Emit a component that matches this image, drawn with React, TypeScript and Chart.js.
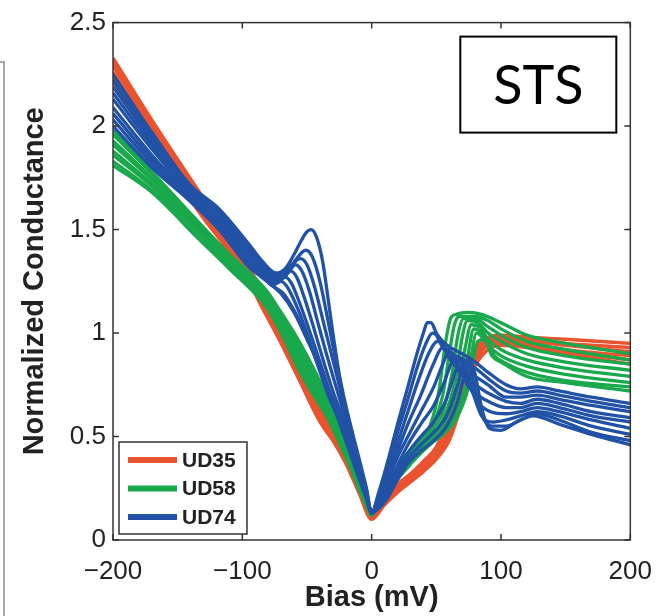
import React, { useEffect, useRef } from 'react';
import { Chart, registerables } from 'chart.js';

Chart.register(...registerables);

type Pt = [number, number];

const SERIES_NAMES = ['UD35', 'UD58', 'UD74'];
const SERIES_COLORS = ['#e9532f', '#1aa84c', '#2152a6'];
const X_TICKS = [-200, -100, 0, 100, 200];
const Y_TICKS = [0, 0.5, 1, 1.5, 2, 2.5];
const X_TITLE = 'Bias (mV)';
const Y_TITLE = 'Normalized Conductance';
const BOX_LABEL = 'STS';
const FONT = "'Liberation Sans', Arial, Helvetica, sans-serif";

// ---- UD35 (red) ----
const UD35_1: Pt[] = [[-200,2.33],[-170,2.03],[-133,1.68],[-110,1.47],[-95,1.32],[-87,1.23],[-70,1.03],[-55,0.85],[-40,0.66],[-30,0.54],[-20,0.42],[-10,0.27],[0,0.12],[10,0.20],[20,0.27],[30,0.32],[40,0.38],[50,0.45],[60,0.60],[70,0.80],[80,0.93],[90,0.98],[100,0.99],[120,0.98],[150,0.97],[200,0.95]];
const UD35_2: Pt[] = [[-200,2.31],[-170,2.01],[-133,1.66],[-110,1.45],[-95,1.31],[-87,1.21],[-70,1.01],[-55,0.83],[-40,0.64],[-30,0.53],[-20,0.41],[-10,0.26],[0,0.12],[10,0.19],[20,0.26],[30,0.31],[40,0.37],[50,0.44],[60,0.57],[70,0.77],[80,0.91],[90,0.97],[100,0.98],[120,0.97],[150,0.95],[200,0.93]];
const UD35_3: Pt[] = [[-200,2.29],[-170,1.99],[-133,1.64],[-110,1.44],[-95,1.29],[-87,1.20],[-70,0.99],[-55,0.81],[-40,0.62],[-30,0.51],[-20,0.40],[-10,0.25],[0,0.11],[10,0.19],[20,0.25],[30,0.30],[40,0.36],[50,0.42],[60,0.55],[70,0.74],[80,0.89],[90,0.96],[100,0.97],[120,0.96],[150,0.94],[200,0.91]];
const UD35_4: Pt[] = [[-200,2.26],[-170,1.97],[-133,1.62],[-110,1.42],[-95,1.28],[-87,1.18],[-70,0.98],[-55,0.80],[-40,0.61],[-30,0.50],[-20,0.39],[-10,0.25],[0,0.11],[10,0.18],[20,0.25],[30,0.30],[40,0.35],[50,0.41],[60,0.53],[70,0.71],[80,0.88],[90,0.95],[100,0.96],[120,0.95],[150,0.92],[200,0.89]];
const UD35_5: Pt[] = [[-200,2.24],[-170,1.95],[-133,1.60],[-110,1.40],[-95,1.26],[-87,1.17],[-70,0.96],[-55,0.78],[-40,0.59],[-30,0.49],[-20,0.38],[-10,0.24],[0,0.11],[10,0.18],[20,0.24],[30,0.29],[40,0.34],[50,0.40],[60,0.51],[70,0.69],[80,0.86],[90,0.94],[100,0.95],[120,0.94],[150,0.91],[200,0.87]];
const UD35_6: Pt[] = [[-200,2.22],[-170,1.93],[-133,1.58],[-110,1.39],[-95,1.25],[-87,1.15],[-70,0.95],[-55,0.76],[-40,0.57],[-30,0.48],[-20,0.37],[-10,0.23],[0,0.10],[10,0.17],[20,0.23],[30,0.28],[40,0.33],[50,0.39],[60,0.48],[70,0.66],[80,0.84],[90,0.92],[100,0.94],[120,0.93],[150,0.90],[200,0.85]];

// ---- UD58 (green) ----
const UD58_1: Pt[] = [[-200,1.98],[-170,1.78],[-133,1.53],[-110,1.38],[-82,1.21],[-70,1.10],[-57,0.97],[-45,0.83],[-35,0.70],[-25,0.55],[-15,0.39],[-5,0.21],[0,0.13],[5,0.20],[15,0.30],[25,0.40],[35,0.47],[45,0.55],[52,0.72],[57,0.95],[61,1.07],[65,1.09],[75,1.10],[85,1.09],[100,1.05],[120,0.99],[150,0.95],[200,0.90]];
const UD58_2: Pt[] = [[-200,1.96],[-170,1.77],[-133,1.52],[-110,1.37],[-82,1.20],[-70,1.09],[-57,0.95],[-45,0.81],[-35,0.68],[-25,0.54],[-15,0.38],[-5,0.21],[0,0.13],[5,0.20],[15,0.30],[25,0.39],[35,0.46],[45,0.53],[55,0.70],[60,0.90],[64,1.04],[68,1.08],[80,1.08],[90,1.06],[100,1.02],[120,0.96],[150,0.92],[200,0.87]];
const UD58_3: Pt[] = [[-200,1.93],[-170,1.75],[-133,1.51],[-110,1.36],[-82,1.19],[-70,1.07],[-57,0.93],[-45,0.79],[-35,0.66],[-25,0.52],[-15,0.37],[-5,0.20],[0,0.13],[5,0.19],[15,0.29],[25,0.38],[35,0.45],[45,0.52],[55,0.62],[62,0.80],[67,1.00],[71,1.07],[80,1.07],[90,1.03],[100,0.99],[120,0.93],[150,0.89],[200,0.85]];
const UD58_4: Pt[] = [[-200,1.91],[-170,1.74],[-133,1.50],[-110,1.35],[-82,1.18],[-70,1.06],[-57,0.91],[-45,0.77],[-35,0.65],[-25,0.51],[-15,0.36],[-5,0.20],[0,0.12],[5,0.19],[15,0.29],[25,0.37],[35,0.44],[45,0.50],[55,0.58],[65,0.78],[70,0.98],[74,1.06],[82,1.05],[90,1.00],[100,0.96],[120,0.90],[150,0.86],[200,0.82]];
const UD58_5: Pt[] = [[-200,1.88],[-170,1.72],[-133,1.49],[-110,1.34],[-82,1.17],[-70,1.04],[-57,0.89],[-45,0.75],[-35,0.63],[-25,0.50],[-15,0.35],[-5,0.19],[0,0.12],[5,0.18],[15,0.28],[25,0.36],[35,0.43],[45,0.49],[55,0.55],[65,0.70],[72,0.92],[77,1.04],[83,1.03],[90,0.97],[100,0.92],[120,0.87],[150,0.83],[200,0.79]];
const UD58_6: Pt[] = [[-200,1.86],[-170,1.71],[-133,1.48],[-110,1.33],[-82,1.15],[-70,1.03],[-57,0.87],[-45,0.73],[-35,0.62],[-25,0.49],[-15,0.34],[-5,0.19],[0,0.12],[5,0.18],[15,0.27],[25,0.35],[35,0.42],[45,0.48],[55,0.53],[65,0.64],[74,0.88],[79,1.02],[85,1.00],[92,0.93],[100,0.89],[120,0.84],[150,0.80],[200,0.76]];
const UD58_7: Pt[] = [[-200,1.83],[-170,1.69],[-133,1.46],[-110,1.32],[-82,1.14],[-70,1.01],[-57,0.85],[-45,0.71],[-35,0.61],[-25,0.48],[-15,0.33],[-5,0.18],[0,0.12],[5,0.17],[15,0.26],[25,0.34],[35,0.41],[45,0.47],[55,0.52],[65,0.60],[75,0.80],[81,1.00],[87,0.97],[95,0.89],[105,0.85],[120,0.81],[150,0.77],[200,0.74]];
const UD58_8: Pt[] = [[-200,1.81],[-170,1.68],[-133,1.45],[-110,1.31],[-82,1.13],[-70,1.00],[-57,0.83],[-45,0.70],[-35,0.60],[-25,0.47],[-15,0.33],[-5,0.18],[0,0.12],[5,0.17],[15,0.26],[25,0.33],[35,0.40],[45,0.46],[55,0.51],[65,0.58],[75,0.74],[82,0.96],[87,0.97],[93,0.89],[100,0.86],[120,0.79],[150,0.76],[200,0.72]];

// ---- UD74 (blue) ----
const UD74_1: Pt[] = [[-200,2.25],[-170,1.97],[-141,1.72],[-118,1.60],[-95,1.43],[-85,1.35],[-74,1.29],[-67,1.31],[-60,1.38],[-55,1.44],[-50,1.49],[-47,1.50],[-43,1.47],[-38,1.35],[-34,1.18],[-30,1.00],[-25,0.80],[-20,0.65],[-10,0.40],[-4,0.25],[0,0.13],[5,0.22],[12,0.37],[20,0.56],[28,0.74],[35,0.90],[40,1.00],[43,1.05],[46,1.05],[50,1.00],[55,0.96],[61,0.93],[70,0.90],[80,0.86],[90,0.81],[104,0.75],[115,0.73],[128,0.74],[145,0.72],[170,0.69],[200,0.66]];
const UD74_2: Pt[] = [[-200,2.22],[-170,1.95],[-141,1.71],[-118,1.59],[-95,1.42],[-85,1.34],[-75,1.28],[-65,1.30],[-58,1.36],[-51,1.40],[-46,1.37],[-40,1.25],[-35,1.10],[-30,0.94],[-25,0.78],[-20,0.63],[-10,0.38],[-4,0.24],[0,0.13],[5,0.21],[12,0.35],[20,0.52],[28,0.68],[35,0.83],[42,0.95],[47,1.00],[50,0.99],[55,0.93],[62,0.89],[70,0.86],[80,0.83],[90,0.78],[104,0.72],[115,0.71],[128,0.72],[145,0.70],[170,0.67],[200,0.64]];
const UD74_3: Pt[] = [[-200,2.19],[-170,1.93],[-141,1.70],[-118,1.58],[-95,1.40],[-85,1.33],[-75,1.27],[-65,1.31],[-55,1.36],[-50,1.33],[-44,1.22],[-38,1.07],[-32,0.92],[-26,0.77],[-20,0.61],[-10,0.36],[-4,0.23],[0,0.13],[5,0.20],[12,0.32],[20,0.47],[28,0.62],[36,0.77],[44,0.90],[51,0.96],[55,0.94],[62,0.86],[70,0.82],[80,0.79],[90,0.75],[104,0.69],[115,0.69],[128,0.70],[145,0.68],[170,0.65],[200,0.62]];
const UD74_4: Pt[] = [[-200,2.16],[-170,1.91],[-141,1.69],[-118,1.56],[-95,1.39],[-85,1.32],[-75,1.26],[-66,1.28],[-59,1.33],[-54,1.30],[-48,1.20],[-42,1.06],[-35,0.90],[-28,0.75],[-20,0.58],[-10,0.35],[-4,0.22],[0,0.13],[5,0.19],[12,0.30],[20,0.43],[28,0.56],[38,0.70],[47,0.84],[55,0.93],[59,0.92],[65,0.84],[72,0.78],[80,0.75],[90,0.71],[104,0.67],[115,0.66],[128,0.68],[145,0.66],[170,0.62],[200,0.59]];
const UD74_5: Pt[] = [[-200,2.13],[-170,1.89],[-141,1.68],[-118,1.55],[-95,1.38],[-85,1.31],[-76,1.25],[-69,1.27],[-63,1.30],[-58,1.27],[-52,1.17],[-45,1.03],[-38,0.88],[-30,0.72],[-20,0.55],[-10,0.34],[-4,0.22],[0,0.13],[5,0.18],[12,0.28],[20,0.40],[28,0.50],[38,0.62],[48,0.74],[55,0.85],[60,0.91],[63,0.90],[68,0.83],[75,0.74],[82,0.70],[90,0.67],[104,0.64],[115,0.64],[128,0.66],[145,0.64],[170,0.60],[200,0.57]];
const UD74_6: Pt[] = [[-200,2.09],[-170,1.86],[-141,1.67],[-118,1.54],[-95,1.36],[-85,1.30],[-76,1.24],[-71,1.25],[-67,1.27],[-62,1.24],[-56,1.15],[-48,1.01],[-40,0.86],[-32,0.71],[-20,0.53],[-10,0.33],[-4,0.21],[0,0.13],[5,0.17],[12,0.25],[20,0.36],[28,0.46],[38,0.56],[48,0.65],[56,0.76],[62,0.86],[66,0.89],[70,0.85],[76,0.74],[83,0.66],[92,0.62],[104,0.61],[115,0.62],[128,0.64],[145,0.62],[170,0.58],[200,0.54]];
const UD74_7: Pt[] = [[-200,2.06],[-170,1.84],[-141,1.66],[-118,1.53],[-95,1.35],[-85,1.29],[-77,1.23],[-70,1.25],[-65,1.22],[-58,1.13],[-50,1.00],[-42,0.85],[-33,0.69],[-20,0.51],[-10,0.32],[-4,0.21],[0,0.13],[5,0.16],[12,0.23],[20,0.33],[28,0.42],[38,0.50],[48,0.57],[57,0.67],[64,0.80],[69,0.88],[73,0.84],[78,0.72],[85,0.60],[94,0.57],[104,0.58],[115,0.60],[128,0.62],[145,0.60],[170,0.55],[200,0.51]];
const UD74_8: Pt[] = [[-200,2.03],[-170,1.82],[-141,1.65],[-118,1.51],[-95,1.33],[-85,1.28],[-77,1.23],[-68,1.19],[-60,1.11],[-50,0.98],[-41,0.84],[-32,0.68],[-20,0.50],[-10,0.31],[-4,0.20],[0,0.13],[5,0.16],[12,0.22],[20,0.31],[28,0.39],[38,0.46],[48,0.52],[58,0.60],[66,0.74],[72,0.87],[76,0.84],[81,0.70],[87,0.58],[95,0.55],[104,0.55],[115,0.58],[128,0.61],[145,0.58],[170,0.52],[200,0.48]];
const UD74_9: Pt[] = [[-200,2.00],[-170,1.80],[-141,1.64],[-118,1.50],[-95,1.32],[-85,1.27],[-77,1.23],[-70,1.19],[-60,1.10],[-50,0.97],[-40,0.83],[-30,0.66],[-20,0.48],[-10,0.30],[-4,0.20],[0,0.13],[5,0.15],[12,0.20],[20,0.29],[28,0.37],[38,0.43],[48,0.48],[58,0.55],[66,0.66],[72,0.80],[76,0.86],[80,0.80],[85,0.64],[91,0.54],[100,0.53],[112,0.57],[125,0.60],[145,0.56],[170,0.51],[200,0.46]];

const UD35_CURVES = [UD35_1, UD35_2, UD35_3, UD35_4, UD35_5, UD35_6];
const UD58_CURVES = [UD58_1, UD58_2, UD58_3, UD58_4, UD58_5, UD58_6, UD58_7, UD58_8];
const UD74_CURVES = [UD74_1, UD74_2, UD74_3, UD74_4, UD74_5, UD74_6, UD74_7, UD74_8, UD74_9];

const fmtX = (v: number) => (v < 0 ? '\u2212' + Math.abs(v) : String(v));

const decorPlugin = {
  id: 'decor',
  afterDraw(chart: any) {
    const { ctx, chartArea: a, scales } = chart;
    const xs = scales.x;
    const ys = scales.y;
    ctx.save();
    // page edge line at far left
    ctx.strokeStyle = '#a8a8a8';
    ctx.lineWidth = 2;
    ctx.beginPath();
    ctx.moveTo(0, 62);
    ctx.lineTo(4, 62);
    ctx.lineTo(4, chart.height);
    ctx.stroke();

    // axes frame
    ctx.strokeStyle = '#333';
    ctx.lineWidth = 1.5;
    ctx.strokeRect(a.left, a.top, a.right - a.left, a.bottom - a.top);

    // inward ticks on all four sides
    const TL = 6;
    ctx.beginPath();
    for (const v of X_TICKS) {
      const p = xs.getPixelForValue(v);
      ctx.moveTo(p, a.bottom);
      ctx.lineTo(p, a.bottom - TL);
      ctx.moveTo(p, a.top);
      ctx.lineTo(p, a.top + TL);
    }
    for (const v of Y_TICKS) {
      const p = ys.getPixelForValue(v);
      ctx.moveTo(a.left, p);
      ctx.lineTo(a.left + TL, p);
      ctx.moveTo(a.right, p);
      ctx.lineTo(a.right - TL, p);
    }
    ctx.stroke();

    // legend box
    const lw = 128;
    const lh = 92;
    const lx = a.left + 6;
    const ly = a.bottom - 6 - lh;
    ctx.fillStyle = '#fff';
    ctx.fillRect(lx, ly, lw, lh);
    ctx.strokeStyle = '#333';
    ctx.lineWidth = 1.5;
    ctx.strokeRect(lx, ly, lw, lh);
    SERIES_NAMES.forEach((name, i) => {
      const cy = ly + 18 + i * 28.5;
      ctx.strokeStyle = SERIES_COLORS[i];
      ctx.lineWidth = 6;
      ctx.lineCap = 'butt';
      ctx.beginPath();
      ctx.moveTo(lx + 9, cy);
      ctx.lineTo(lx + 58, cy);
      ctx.stroke();
      ctx.fillStyle = '#222';
      ctx.font = `bold 21px ${FONT}`;
      ctx.textBaseline = 'middle';
      ctx.textAlign = 'left';
      ctx.fillText(name, lx + 63, cy + 1);
    });

    // STS label box
    const bw = 156;
    const bh = 96;
    const bx = a.right - 14 - bw;
    const by = a.top + 14;
    ctx.fillStyle = '#fff';
    ctx.fillRect(bx, by, bw, bh);
    ctx.strokeStyle = '#000';
    ctx.lineWidth = 2;
    ctx.strokeRect(bx, by, bw, bh);
    ctx.fillStyle = '#000';
    ctx.font = `54px Lato, 'Open Sans', sans-serif`;
    ctx.textAlign = 'center';
    ctx.textBaseline = 'middle';
    ctx.fillText(BOX_LABEL, bx + bw / 2, by + bh / 2 + 2);
    ctx.restore();
  },
};

export default function App() {
  const ref = useRef<HTMLCanvasElement | null>(null);

  useEffect(() => {
    document.body.style.margin = '0';
    const canvas = ref.current;
    if (!canvas) return;

    const mk = (curves: Pt[][], color: string, label: string) =>
      curves.map((c, i) => ({
        label: `${label} ${i + 1}`,
        data: c.map(([x, y]) => ({ x, y })),
        borderColor: color,
        backgroundColor: color,
        borderWidth: 3.3,
        pointRadius: 0,
        fill: false,
        cubicInterpolationMode: 'monotone' as const,
      }));

    // first dataset is drawn on top in Chart.js: blue, then green, then red
    const datasets = [
      ...mk(UD74_CURVES, SERIES_COLORS[2], SERIES_NAMES[2]),
      ...mk(UD58_CURVES, SERIES_COLORS[1], SERIES_NAMES[1]),
      ...mk(UD35_CURVES, SERIES_COLORS[0], SERIES_NAMES[0]),
    ];

    const chart = new Chart(canvas, {
      type: 'line',
      data: { datasets },
      options: {
        responsive: false,
        animation: false,
        layout: { padding: { left: 0, right: 33, top: 18, bottom: 0 } },
        plugins: { legend: { display: false }, tooltip: { enabled: false } },
        scales: {
          x: {
            type: 'linear',
            min: -200,
            max: 200,
            afterBuildTicks: (s: any) => {
              s.ticks = X_TICKS.map((v) => ({ value: v }));
            },
            afterFit: (s: any) => {
              s.height = 76;
            },
            grid: { display: false, drawTicks: false },
            border: { display: false },
            ticks: {
              padding: 16,
              color: '#222',
              font: { family: FONT, size: 26 },
              callback: (v: any) => fmtX(Number(v)),
              maxRotation: 0,
              autoSkip: false,
            },
            title: {
              display: true,
              text: X_TITLE,
              color: '#222',
              font: { family: FONT, size: 29, weight: 'bold' },
              padding: { top: 0, bottom: 1 },
            },
          },
          y: {
            type: 'linear',
            min: 0,
            max: 2.5,
            afterBuildTicks: (s: any) => {
              s.ticks = Y_TICKS.map((v) => ({ value: v }));
            },
            afterFit: (s: any) => {
              s.width = 113;
            },
            grid: { display: false, drawTicks: false },
            border: { display: false },
            ticks: {
              padding: 7,
              color: '#222',
              font: { family: FONT, size: 26 },
              callback: (v: any) => String(Number(v)),
              autoSkip: false,
            },
            title: {
              display: true,
              text: Y_TITLE,
              color: '#222',
              font: { family: FONT, size: 29, weight: 'bold' },
              padding: { top: 18, bottom: 0 },
            },
          },
        },
      },
      plugins: [decorPlugin],
    });

    return () => {
      chart.destroy();
    };
  }, []);

  return (
    <div style={{ width: 668, height: 616, position: 'relative', background: '#fff' }}>
      <canvas ref={ref} width={668} height={616} style={{ display: 'block' }} />
    </div>
  );
}
